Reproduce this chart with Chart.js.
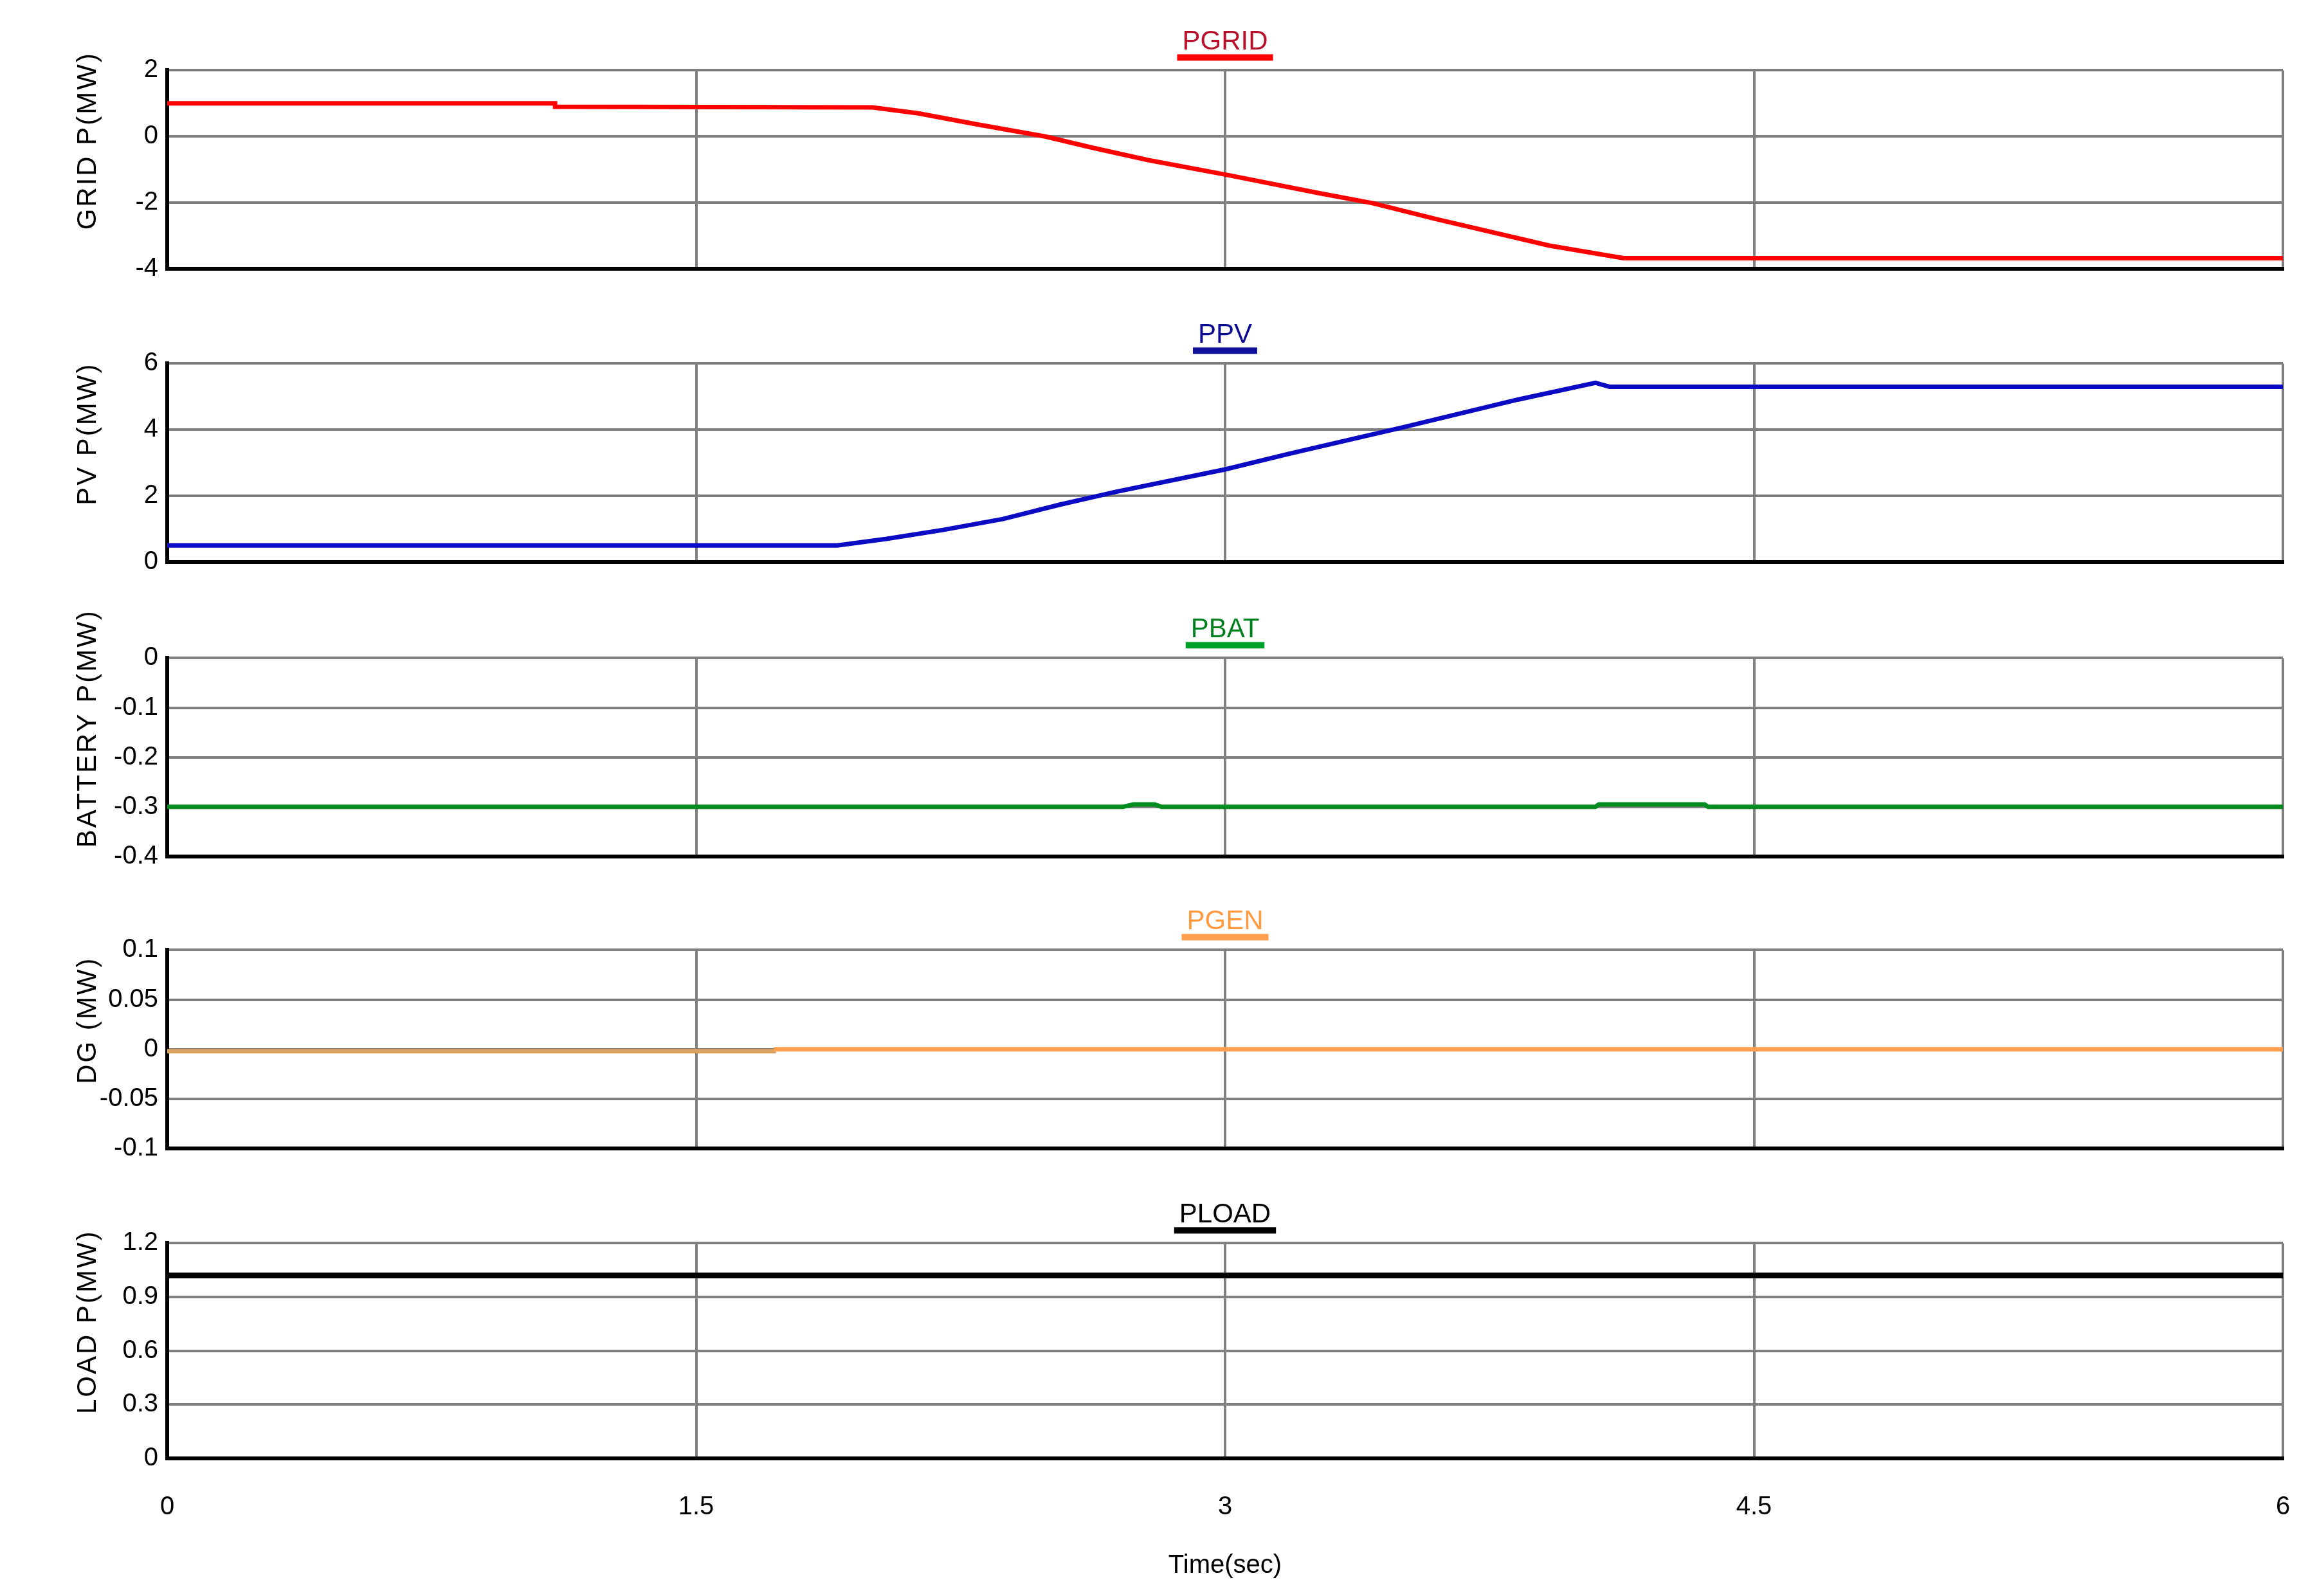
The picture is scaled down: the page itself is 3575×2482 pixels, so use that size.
<!DOCTYPE html>
<html>
<head>
<meta charset="utf-8">
<title>PGRID / PPV / PBAT / PGEN / PLOAD</title>
<script src="https://cdn.jsdelivr.net/npm/chart.js@4.4.1/dist/chart.umd.min.js"></script>
<style>
  body { margin: 0; background: #fff; }
  #wrap { position: relative; width: 3575px; height: 2482px; background: #fff; }
  #wrap canvas { position: absolute; left: 0; }
</style>
</head>
<body>
<div id="wrap">
  <canvas id="c0" width="3575" height="456" style="top:0px"></canvas>
  <canvas id="c1" width="3575" height="456" style="top:456px"></canvas>
  <canvas id="c2" width="3575" height="456" style="top:914px"></canvas>
  <canvas id="c3" width="3575" height="456" style="top:1368px"></canvas>
  <canvas id="c4" width="3575" height="658" style="top:1824px"></canvas>
</div>
<script>
// values (time in sec, power in MW)
var gridTime  = [0, 1.1, 1.1, 2.0, 2.13, 2.29, 2.49, 2.62, 2.78, 3.0, 3.27, 3.42, 3.6, 3.92, 4.13, 6];
var gridPower = [1.0, 1.0, 0.9, 0.88, 0.7, 0.38, 0.0, -0.33, -0.71, -1.15, -1.72, -2.02, -2.5, -3.3, -3.68, -3.68];

var pvTime  = [0, 1.9, 2.04, 2.2, 2.37, 2.53, 2.69, 3.0, 3.18, 3.5, 3.83, 4.05, 4.09, 6];
var pvPower = [0.5, 0.5, 0.7, 0.97, 1.3, 1.73, 2.12, 2.8, 3.27, 4.06, 4.91, 5.42, 5.3, 5.3];

var batTime  = [0, 2.71, 2.74, 2.8, 2.82, 4.05, 4.06, 4.36, 4.37, 6];
var batPower = [-0.3, -0.3, -0.295, -0.295, -0.3, -0.3, -0.295, -0.295, -0.3, -0.3];

var genTime  = [0, 1.72, 1.72, 6];
var genPower = [-0.002, -0.002, 0, 0];

var loadTime  = [0, 6];
var loadPower = [1.02, 1.02];

var timeTicks = [0, 1.5, 3, 4.5, 6];
var gridTicks = [-4, -2, 0, 2];
var pvTicks   = [0, 2, 4, 6];
var batTicks  = [-0.4, -0.3, -0.2, -0.1, 0];
var genTicks  = [-0.1, -0.05, 0, 0.05, 0.1];
var loadTicks = [0, 0.3, 0.6, 0.9, 1.2];

var panelTitles  = ["PGRID", "PPV", "PBAT", "PGEN", "PLOAD"];
var axisCaptions = ["GRID P(MW)", "PV P(MW)", "BATTERY P(MW)", "DG (MW)", "LOAD P(MW)"];

var FONT = '"Liberation Sans", Arial, sans-serif';

function pts(t, v) {
  return t.map(function (x, i) { return { x: x, y: v[i] }; });
}

// underline under the title + rotated caption on the left
var panelDeco = {
  id: "panelDeco",
  afterDraw: function (chart, args, opts) {
    var ctx = chart.ctx, area = chart.chartArea, tb = chart.titleBlock;
    ctx.save();
    ctx.font = "42px " + FONT;
    var w = ctx.measureText(opts.title).width;
    var cx = (tb.left + tb.right) / 2;
    ctx.fillStyle = opts.lineColor;
    ctx.fillRect(cx - w / 2 - 8, tb.bottom - 25, w + 16, 10);

    ctx.translate(137, (area.top + area.bottom) / 2 - 45);
    ctx.rotate(-Math.PI / 2);
    ctx.textAlign = "center";
    ctx.textBaseline = "middle";
    ctx.letterSpacing = "3px";
    ctx.fillStyle = "#000";
    ctx.font = "42px " + FONT;
    ctx.fillText(opts.caption, 0, 0);
    ctx.restore();
  }
};

var panels = [
  { data: pts(gridTime, gridPower), ticks: gridTicks, color: "#ff0000", text: "#b8102a", line: "#ff0000", width: 7 },
  { data: pts(pvTime, pvPower),     ticks: pvTicks,   color: "#0b0bc4", text: "#0a0a90", line: "#10109c", width: 7 },
  { data: pts(batTime, batPower),   ticks: batTicks,  color: "#008c1e", text: "#00801c", line: "#00a02a", width: 7 },
  { data: pts(genTime, genPower),   ticks: genTicks,  color: "#ff9f4f", text: "#ff9a40", line: "#ffa050", width: 7 },
  { data: pts(loadTime, loadPower), ticks: loadTicks, color: "#000000", text: "#000000", line: "#000000", width: 9 }
];

panels.forEach(function (p, i) {
  var last = i == panels.length - 1;
  var ds = {
    data: p.data,
    borderColor: p.color,
    borderWidth: p.width,
    pointRadius: 0,
    tension: 0,
    fill: false
  };
  // the diesel trace is drawn in a duller tone before t = 1.72 s
  if (i == 3) {
    ds.segment = {
      borderColor: function (c) { return c.p0DataIndex < 2 ? "#d9a262" : "#ff9f4f"; }
    };
  }

  new Chart(document.getElementById("c" + i), {
    type: "line",
    data: { datasets: [ds] },
    plugins: [panelDeco],
    options: {
      responsive: false,
      animation: false,
      devicePixelRatio: 1,
      layout: { padding: { left: 0, right: 25, top: 0, bottom: 0 } },
      plugins: {
        legend: { display: false },
        tooltip: { enabled: false },
        title: {
          display: true,
          text: panelTitles[i],
          color: p.text,
          fullSize: false,
          font: { family: FONT, size: 42, weight: "normal", lineHeight: 1.2 },
          padding: { top: 40, bottom: 19 }
        },
        panelDeco: { title: panelTitles[i], lineColor: p.line, caption: axisCaptions[i] }
      },
      scales: {
        x: {
          type: "linear",
          min: timeTicks[0],
          max: timeTicks[timeTicks.length - 1],
          afterBuildTicks: function (axis) {
            axis.ticks = timeTicks.map(function (v) { return { value: v }; });
          },
          afterFit: function (axis) { axis.height = last ? 214 : 14; },
          // invisible tick marks push the time labels down without widening the side padding
          grid: { color: "#808080", lineWidth: 4, drawTicks: last, tickLength: 50, tickColor: "rgba(0,0,0,0)" },
          border: { color: "#000", width: 6 },
          ticks: {
            display: last,
            padding: 2,
            color: "#000",
            maxRotation: 0,
            font: { family: FONT, size: 40 },
            callback: function (v) { return String(v); }
          },
          title: {
            display: last,
            text: "Time(sec)",
            color: "#000",
            font: { family: FONT, size: 40 },
            padding: { top: 0, bottom: 23 }
          }
        },
        y: {
          min: p.ticks[0],
          max: p.ticks[p.ticks.length - 1],
          afterBuildTicks: function (axis) {
            axis.ticks = p.ticks.map(function (v) { return { value: v }; });
          },
          afterFit: function (axis) { axis.width = 260; },
          grid: { color: "#808080", lineWidth: 4, drawTicks: false },
          border: { color: "#000", width: 6 },
          ticks: {
            padding: 14,
            color: "#000",
            font: { family: FONT, size: 40 },
            callback: function (v) { return String(v); }
          }
        }
      }
    }
  });
});
</script>
</body>
</html>
